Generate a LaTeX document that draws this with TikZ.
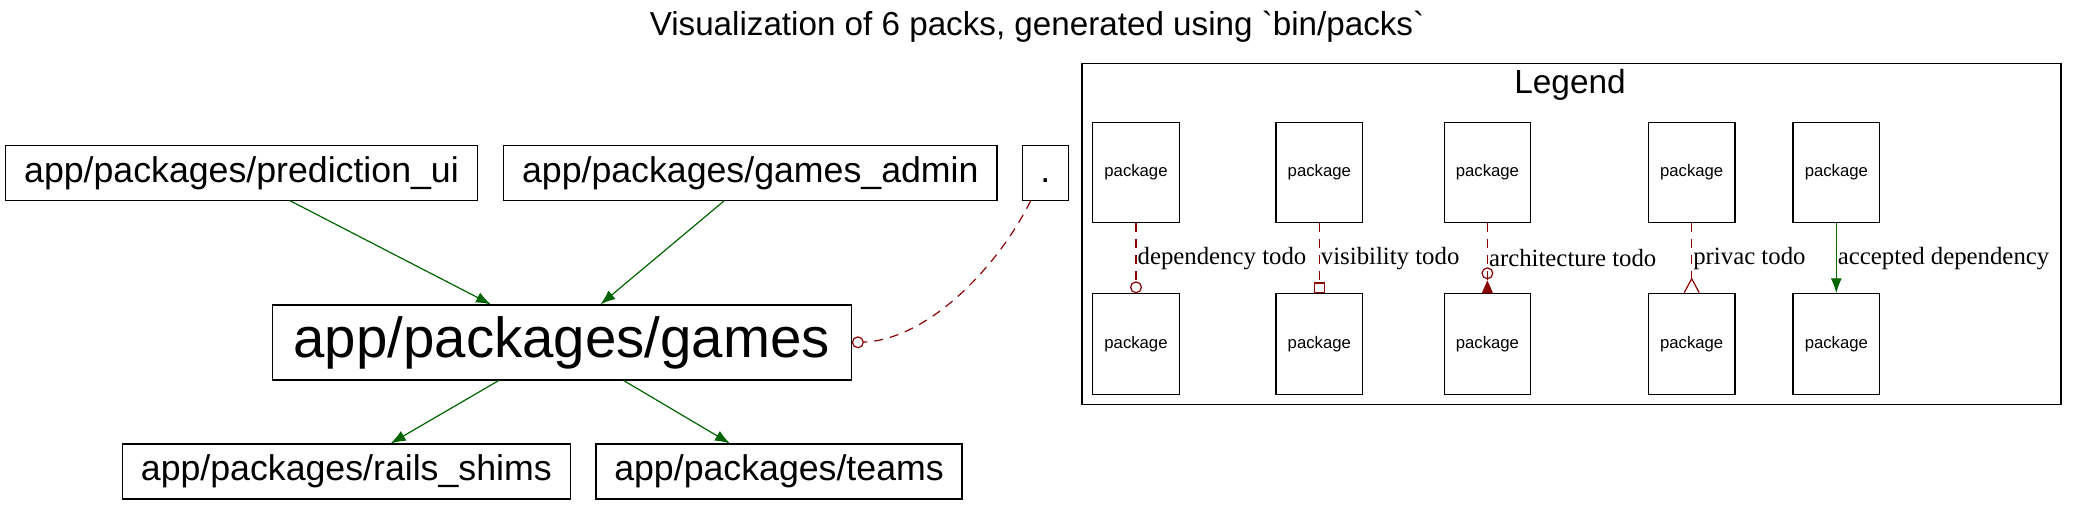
\documentclass[tikz,border=0pt]{standalone}
\usepackage{fontspec}
\setmainfont{Liberation Sans}[Ligatures=TeXOff]
\newfontfamily\edgefont{Liberation Serif}
\usepackage{xcolor}
\usepackage{tikz}
\usetikzlibrary{arrows.meta}
\usetikzlibrary{positioning}
\definecolor{okgreen}{RGB}{0,100,0}
\definecolor{todored}{RGB}{139,0,0}
\tikzstyle{pack} = [rectangle, draw=black, line width=1.1pt, inner sep=0pt, minimum height=54.3pt, text centered, font=\fontsize{35.7}{40}\selectfont]
\tikzstyle{legendpack} = [rectangle, draw=black, line width=1.1pt, inner sep=0pt, minimum width=86.6pt, minimum height=100.3pt, font=\fontsize{16.7}{19}\selectfont]
\tikzstyle{accepted} = [line width=1.2pt, draw=okgreen, -{Latex[length=15pt, width=11pt, fill=okgreen]}]
\tikzstyle{todo} = [line width=1.2pt, draw=todored, dash pattern=on 9pt off 7pt]
\tikzstyle{edgelabel} = [anchor=west, inner sep=1pt, font=\edgefont\fontsize{24.8}{28}\selectfont]

\begin{document}
\begin{tikzpicture}[x=1pt, y=-1pt]
    \useasboundingbox (0,0) rectangle (2078,504);
    \node (title) at (1037,27) {\fontsize{33.2}{38}\selectfont Visualization of 6 packs, generated using `bin/packs`};
    % packages
    \node (prediction)[pack, minimum width=472.3pt] at (241.5,173) {app/packages/prediction\_ui};
    \node (gamesadmin)[pack, minimum width=493.4pt] at (750.3,173) {app/packages/games\_admin};
    \node (root)[pack, minimum width=46pt] at (1045.3,173) {\vphantom{app/}.};
    \node (games)[pack, minimum width=579.3pt, minimum height=75pt, font=\fontsize{56.4}{62}\selectfont] at (561.7,342.5) {app/packages/games};
    \node (railsshims)[pack, minimum width=448.5pt, minimum height=55pt] at (346.3,471.5) {app/packages/rails\_shims};
    \node (teams)[pack, minimum width=366pt, minimum height=55pt] at (779,471.5) {app/packages/teams};
    \draw[accepted]([xshift=48.5pt]prediction.south) -- ([xshift=-70.7pt]games.north);
    \draw[accepted]([xshift=-26pt]gamesadmin.south) -- ([xshift=38.7pt]games.north);
    \draw[accepted]([xshift=-63pt]games.south) -- ([xshift=44.3pt]railsshims.north);
    \draw[accepted]([xshift=62pt]games.south) -- ([xshift=-49pt]teams.north);
    \draw[todo, -{Circle[open, length=12pt, width=12pt]}]([xshift=-14.6pt]root.south) .. controls (995,272) and (925,340) .. (games.east);
    % legend
    \node (legend)[rectangle, draw=black, line width=1.1pt, minimum width=979pt, minimum height=340.3pt] at (1571.5,233.9) {};
    \node (legendtitle) at (1570,85) {\fontsize{33.4}{38}\selectfont Legend};
    \node (dep1)[legendpack] at (1136,172.2) {package};
    \node (vis1)[legendpack] at (1319.3,172.2) {package};
    \node (arch1)[legendpack] at (1487.4,172.2) {package};
    \node (priv1)[legendpack] at (1691.7,172.2) {package};
    \node (ok1)[legendpack] at (1836.3,172.2) {package};
    \node (dep2)[legendpack, below=70.4pt of dep1] {package};
    \node (vis2)[legendpack, below=70.4pt of vis1] {package};
    \node (arch2)[legendpack, below=70.4pt of arch1] {package};
    \node (priv2)[legendpack, below=70.4pt of priv1] {package};
    \node (ok2)[legendpack, below=70.4pt of ok1] {package};
    \draw[todo, -{Circle[open, length=12pt, width=12pt]}](dep1) -- node[edgelabel] {dependency todo} (dep2);
    \draw[todo, -{Square[open, length=11pt, width=11pt]}](vis1) -- node[edgelabel] {visibility todo} (vis2);
    \draw[todo, -{Circle[open, length=12pt, width=12pt, sep=1pt] Triangle[reversed, length=13pt, width=11pt, fill=todored]}](arch1) -- node[edgelabel] {architecture todo} (arch2);
    \draw[todo, -{Straight Barb[reversed, length=14pt, width=15pt]}](priv1) -- node[edgelabel] {privac todo} (priv2);
    \draw[accepted](ok1) -- node[edgelabel] {accepted dependency} (ok2);
  \end{tikzpicture}
\end{document}
